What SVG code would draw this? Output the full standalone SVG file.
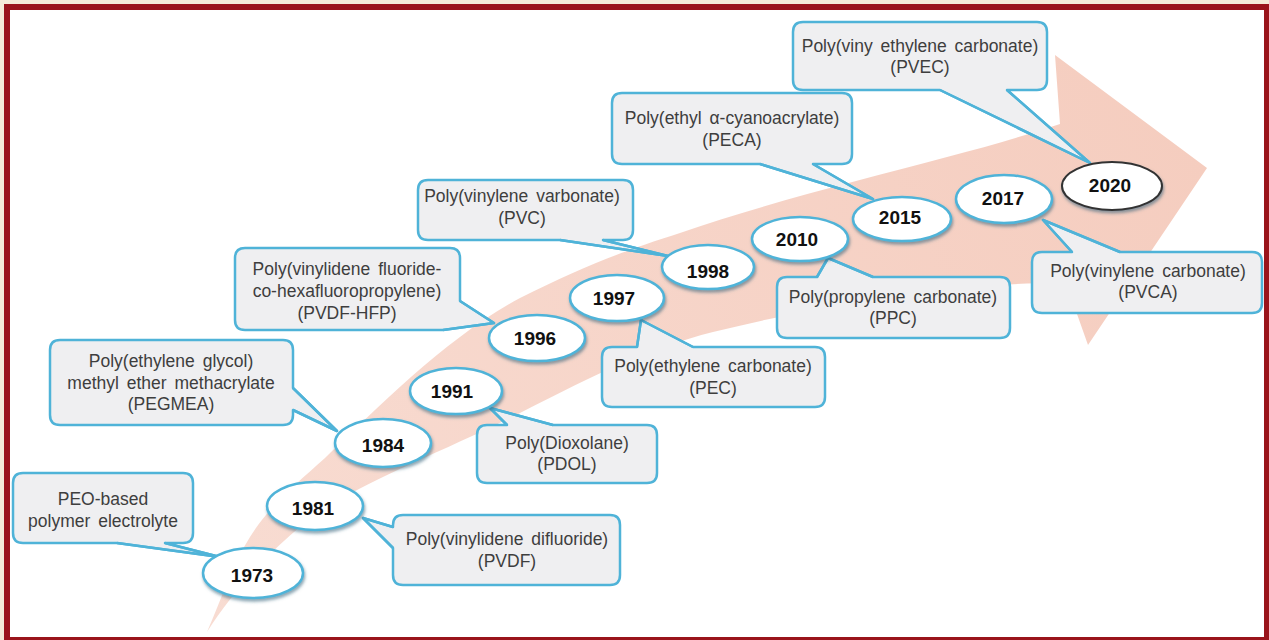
<svg xmlns="http://www.w3.org/2000/svg" width="1269" height="640" viewBox="0 0 1269 640">
<defs>
<linearGradient id="arrowGrad" x1="207" y1="632" x2="1207" y2="168" gradientUnits="userSpaceOnUse">
<stop offset="0" stop-color="#f8dcd2"/>
<stop offset="1" stop-color="#f5cdbf"/>
</linearGradient>
<filter id="shadow" x="-20%" y="-30%" width="140%" height="170%">
<feDropShadow dx="1" dy="2.5" stdDeviation="1.5" flood-color="#2f5f78" flood-opacity="0.55"/>
</filter>
<style>
.box{fill:#efeff1;stroke:#4fb3d8;stroke-width:2.5;stroke-linejoin:round}
.wedge{fill:none;stroke:#4fb3d8;stroke-width:2.5;stroke-linejoin:round}
.lbl{font-family:"Liberation Sans",Arial,sans-serif;font-size:17.5px;fill:#3e3e3e;text-anchor:middle;word-spacing:3px}
.yr{fill:#ffffff;stroke:#4fb3d8;stroke-width:2.5;filter:url(#shadow)}
.yrdark{fill:#ffffff;stroke:#333333;stroke-width:2;filter:url(#shadow)}
.yt{font-family:"Liberation Sans",Arial,sans-serif;font-size:19px;font-weight:bold;fill:#111111;text-anchor:middle}
</style>
</defs>
<rect x="0" y="0" width="1269" height="640" fill="#f5ebd8"/>
<rect x="4" y="4" width="1265" height="636" fill="#9a141b"/>
<rect x="10" y="10" width="1254" height="627" fill="#ffffff"/>

<g id="timeline-arrow">
<path fill="url(#arrowGrad)" d="M 207,632 C 222,598 232,565 250,537 C 270,505 295,485 325,458 C 380,405 450,335 520,298 C 580,268 620,252 680,233 C 760,205 860,180 947,157 C 990,146 1030,134 1060,124 L 1055,55 L 1207,168 L 1088,345 L 1066,283 C 980,282 860,296 713,332 C 650,348 600,372 520,413 C 450,448 380,475 330,505 C 290,530 240,580 207,632 Z"/>
</g>

<g id="callout-peo">
<path class="box" d="M 23,473 H 183 Q 193,473 193,483 V 533 Q 193,543 183,543 H 165 L 220,557 L 117,543 H 23 Q 13,543 13,533 V 483 Q 13,473 23,473 Z"/>
<text class="lbl" x="103" y="505">PEO-based</text>
<text class="lbl" x="103" y="527">polymer electrolyte</text>
</g>
<g id="callout-pvdf">
<path class="box" d="M 403,515 H 610 Q 620,515 620,525 V 575 Q 620,585 610,585 H 403 Q 393,585 393,575 V 548 L 363,518 L 393,527 V 525 Q 393,515 403,515 Z"/>
<text class="lbl" x="507" y="545">Poly(vinylidene difluoride)</text>
<text class="lbl" x="507" y="567">(PVDF)</text>
</g>
<g id="callout-pegmea">
<path class="box" d="M 60,340 H 283 Q 293,340 293,350 V 388 L 337,431 L 293,410 V 415 Q 293,425 283,425 H 60 Q 50,425 50,415 V 350 Q 50,340 60,340 Z"/>
<text class="lbl" x="171" y="367">Poly(ethylene glycol)</text>
<text class="lbl" x="171" y="389">methyl ether methacrylate</text>
<text class="lbl" x="171" y="410">(PEGMEA)</text>
</g>
<g id="callout-pvdfhfp">
<path class="box" d="M 245,248 H 450 Q 460,248 460,258 V 301 L 494,323 L 443,330 H 245 Q 235,330 235,320 V 258 Q 235,248 245,248 Z"/>
<text class="lbl" x="347" y="275">Poly(vinylidene fluoride-</text>
<text class="lbl" x="347" y="297">co-hexafluoropropylene)</text>
<text class="lbl" x="347" y="319">(PVDF-HFP)</text>
</g>
<g id="callout-pvc">
<path class="box" d="M 428,180 H 623 Q 633,180 633,190 V 230 Q 633,240 623,240 H 603 L 668,256 L 560,240 H 428 Q 418,240 418,230 V 190 Q 418,180 428,180 Z"/>
<text class="lbl" x="522" y="202">Poly(vinylene varbonate)</text>
<text class="lbl" x="522" y="224">(PVC)</text>
</g>
<g id="callout-peca">
<path class="box" d="M 622,93 H 842 Q 852,93 852,103 V 154 Q 852,164 842,164 H 813 L 873,199 L 760,164 H 622 Q 612,164 612,154 V 103 Q 612,93 622,93 Z"/>
<text class="lbl" x="732" y="124">Poly(ethyl  α-cyanoacrylate)</text>
<text class="lbl" x="732" y="146">(PECA)</text>
</g>
<g id="callout-pvec">
<path class="box" d="M 803,22 H 1037 Q 1047,22 1047,32 V 80 Q 1047,90 1037,90 H 1007 L 1090,163 L 940,90 H 803 Q 793,90 793,80 V 32 Q 793,22 803,22 Z"/>
<text class="lbl" x="920" y="52">Poly(viny ethylene carbonate)</text>
<text class="lbl" x="920" y="73">(PVEC)</text>
</g>
<g id="callout-ppc">
<path class="box" d="M 787,277 H 817 L 828,258 L 873,277 H 1000 Q 1010,277 1010,287 V 328 Q 1010,338 1000,338 H 787 Q 777,338 777,328 V 287 Q 777,277 787,277 Z"/>
<text class="lbl" x="893" y="303">Poly(propylene carbonate)</text>
<text class="lbl" x="893" y="324">(PPC)</text>
</g>
<g id="callout-pec">
<path class="box" d="M 612,347 H 637 L 641,320 L 693,347 H 815 Q 825,347 825,357 V 397 Q 825,407 815,407 H 612 Q 602,407 602,397 V 357 Q 602,347 612,347 Z"/>
<text class="lbl" x="713" y="372">Poly(ethylene carbonate)</text>
<text class="lbl" x="713" y="394">(PEC)</text>
</g>
<g id="callout-pdol">
<path class="box" d="M 487,425 H 507 L 490,408 L 553,425 H 647 Q 657,425 657,435 V 473 Q 657,483 647,483 H 487 Q 477,483 477,473 V 435 Q 477,425 487,425 Z"/>
<text class="lbl" x="567" y="449">Poly(Dioxolane)</text>
<text class="lbl" x="567" y="470">(PDOL)</text>
</g>
<g id="callout-pvca">
<path class="box" d="M 1042,252 H 1072 L 1043,220 L 1120,252 H 1252 Q 1262,252 1262,262 V 303 Q 1262,313 1252,313 H 1042 Q 1032,313 1032,303 V 262 Q 1032,252 1042,252 Z"/>
<text class="lbl" x="1148" y="277">Poly(vinylene carbonate)</text>
<text class="lbl" x="1148" y="298">(PVCA)</text>
</g>

<g id="connectors">
<polyline class="wedge" points="165,543 220,557 117,543"/>
<polyline class="wedge" points="393,548 363,518 393,527"/>
<polyline class="wedge" points="293,388 337,431 293,410"/>
<polyline class="wedge" points="460,301 494,323 443,330"/>
<polyline class="wedge" points="603,240 668,256 560,240"/>
<polyline class="wedge" points="813,164 873,199 760,164"/>
<polyline class="wedge" points="1007,90 1090,163 940,90"/>
<polyline class="wedge" points="817,277 828,258 873,277"/>
<polyline class="wedge" points="637,347 641,320 693,347"/>
<polyline class="wedge" points="507,425 490,408 553,425"/>
<polyline class="wedge" points="1072,252 1043,220 1120,252"/>
</g>

<g id="year-1973"><ellipse class="yr" cx="253" cy="573" rx="50" ry="25"/><text class="yt" x="252" y="582">1973</text></g>
<g id="year-1981"><ellipse class="yr" cx="315" cy="506" rx="48" ry="24"/><text class="yt" x="313" y="515">1981</text></g>
<g id="year-1984"><ellipse class="yr" cx="383" cy="443" rx="48" ry="24"/><text class="yt" x="383" y="452">1984</text></g>
<g id="year-1991"><ellipse class="yr" cx="456" cy="391" rx="46" ry="23"/><text class="yt" x="452" y="398">1991</text></g>
<g id="year-1996"><ellipse class="yr" cx="537" cy="338" rx="48" ry="23"/><text class="yt" x="535" y="345">1996</text></g>
<g id="year-1997"><ellipse class="yr" cx="617" cy="298" rx="47" ry="23"/><text class="yt" x="614" y="305">1997</text></g>
<g id="year-1998"><ellipse class="yr" cx="708" cy="267" rx="46" ry="22"/><text class="yt" x="708" y="278">1998</text></g>
<g id="year-2010"><ellipse class="yr" cx="800" cy="239" rx="48" ry="22"/><text class="yt" x="797" y="246">2010</text></g>
<g id="year-2015"><ellipse class="yr" cx="902" cy="219" rx="49" ry="22"/><text class="yt" x="900" y="224">2015</text></g>
<g id="year-2017"><ellipse class="yr" cx="1004" cy="199" rx="48" ry="24"/><text class="yt" x="1003" y="205">2017</text></g>
<g id="year-2020"><ellipse class="yrdark" cx="1112" cy="186" rx="50" ry="24"/><text class="yt" x="1110" y="192">2020</text></g>
</svg>
